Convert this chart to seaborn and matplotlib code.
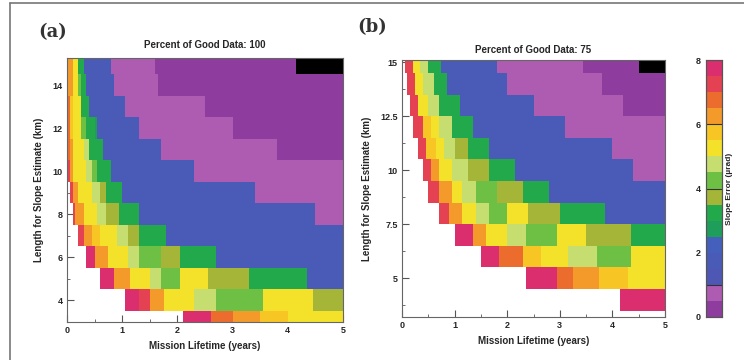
import numpy as np
import pandas as pd
import matplotlib
matplotlib.use("Agg")
import matplotlib.pyplot as plt
from matplotlib.colors import ListedColormap
from matplotlib.lines import Line2D
import seaborn as sns

sns.set_theme(style="white")
plt.rcParams['font.family'] = ['Liberation Sans', 'DejaVu Sans']

# rows = slope estimate length (km), columns = mission lifetime in 0.05 yr steps
lengths_km = [15, 14, 13, 12, 11, 10, 9, 8, 7, 6, 5, 4, 3]
year_step = 0.05
n_cols = 100

# each row: (start year, slope error in urad); -1 = no data (black), missing = blank
runs_100 = [
    [(0, 6.3), (0.1, 5.3), (0.2, 3.2), (0.3, 1.8), (0.8, 0.8), (1.6, 0.3), (4.15, -1)],
    [(0, 6.3), (0.1, 5.3), (0.2, 4.3), (0.25, 3.2), (0.35, 1.8), (0.85, 0.8), (1.65, 0.3)],
    [(0, 6.8), (0.05, 5.8), (0.1, 5.3), (0.25, 3.2), (0.4, 1.8), (1.05, 0.8), (2.5, 0.3)],
    [(0, 6.8), (0.05, 5.8), (0.1, 5.3), (0.25, 4.3), (0.35, 3.2), (0.5, 2.8), (0.55, 1.8), (1.3, 0.8), (3.0, 0.3)],
    [(0, 6.8), (0.05, 6.3), (0.1, 5.3), (0.3, 4.8), (0.4, 3.2), (0.65, 1.8), (1.7, 0.8), (3.8, 0.3)],
    [(0, 7.2), (0.05, 6.3), (0.1, 5.3), (0.35, 4.8), (0.45, 4.3), (0.55, 3.2), (0.8, 1.8), (2.3, 0.8)],
    [(0.05, 7.2), (0.1, 6.3), (0.2, 5.3), (0.45, 4.8), (0.6, 3.8), (0.7, 3.2), (1.0, 1.8), (3.4, 0.8)],
    [(0.1, 7.2), (0.15, 6.3), (0.3, 5.3), (0.55, 4.8), (0.7, 3.8), (0.95, 3.2), (1.3, 1.8), (4.5, 0.8)],
    [(0.2, 7.2), (0.3, 6.3), (0.45, 5.8), (0.6, 5.3), (0.9, 4.8), (1.1, 3.8), (1.3, 3.2), (1.8, 1.8)],
    [(0.35, 7.8), (0.5, 6.3), (0.75, 5.3), (1.1, 4.8), (1.3, 4.3), (1.7, 3.8), (2.05, 3.2), (2.7, 1.8)],
    [(0.6, 7.8), (0.85, 6.3), (1.15, 5.3), (1.5, 4.8), (1.7, 4.3), (2.05, 5.3), (2.55, 3.8), (3.3, 3.2), (4.35, 1.8)],
    [(1.05, 7.8), (1.3, 7.2), (1.5, 6.3), (1.75, 5.3), (2.3, 4.8), (2.7, 4.3), (3.55, 5.3), (4.45, 3.8)],
    [(2.1, 7.8), (2.6, 6.8), (3.0, 6.3), (3.5, 5.8), (4.0, 5.3)],
]

runs_75 = [
    [(0.05, 7.2), (0.2, 5.3), (0.35, 4.8), (0.5, 3.2), (0.75, 1.8), (1.8, 0.8), (3.45, 0.3), (4.5, -1)],
    [(0.1, 7.2), (0.25, 5.3), (0.4, 4.8), (0.6, 3.2), (0.85, 1.8), (2.0, 0.8), (3.8, 0.3)],
    [(0.15, 7.2), (0.3, 5.3), (0.5, 4.8), (0.7, 3.2), (1.1, 1.8), (2.5, 0.8), (4.2, 0.3)],
    [(0.2, 7.2), (0.4, 5.8), (0.55, 5.3), (0.7, 4.8), (0.95, 3.2), (1.35, 1.8), (3.1, 0.8)],
    [(0.3, 7.2), (0.45, 5.8), (0.65, 5.3), (0.8, 4.8), (1.0, 3.8), (1.25, 3.2), (1.65, 1.8), (4.0, 0.8)],
    [(0.4, 7.2), (0.55, 6.3), (0.7, 5.3), (0.95, 4.8), (1.25, 3.8), (1.65, 3.2), (2.15, 1.8), (4.4, 0.8)],
    [(0.5, 7.2), (0.7, 6.3), (0.95, 5.3), (1.15, 4.8), (1.4, 4.3), (1.8, 3.8), (2.3, 3.2), (2.8, 1.8)],
    [(0.7, 7.2), (0.9, 6.3), (1.15, 5.3), (1.4, 4.8), (1.65, 4.3), (2.0, 5.3), (2.4, 3.8), (3.0, 3.2), (3.85, 1.8)],
    [(1.0, 7.8), (1.35, 6.3), (1.6, 5.3), (2.0, 4.8), (2.35, 4.3), (2.95, 5.3), (3.5, 3.8), (4.35, 3.2)],
    [(1.5, 7.8), (1.85, 6.8), (2.3, 5.8), (2.65, 5.3), (3.15, 4.8), (3.7, 4.3), (4.35, 5.3)],
    [(2.35, 7.8), (2.95, 6.8), (3.25, 6.3), (3.75, 5.8), (4.3, 5.3)],
    [(4.15, 7.8)],
    [],
]

# 0.5 urad colour bins, 0 -> 8
bin_colors = ['#8E3C9E', '#AE5CB2', '#4E58B4', '#4A5BB7', '#4560BC', '#1E9E5A',
              '#22A94C', '#A4B538', '#6EC044', '#C6DE70', '#F4E22A', '#F8C624',
              '#F39A2A', '#EC6C2E', '#E44252', '#DA2E6E']
cmap = ListedColormap(bin_colors)
cmap.set_under('black')


def to_frame(runs):
    centers = np.arange(n_cols) * year_step + year_step / 2
    grid = np.full((len(runs), n_cols), np.nan)
    for r, segs in enumerate(runs):
        for start, val in segs:
            grid[r, centers >= start] = val
    return pd.DataFrame(grid, index=lengths_km, columns=np.round(centers, 3))


def km_pos(v):
    return lengths_km[0] + 0.5 - np.asarray(v, dtype=float)


fig = plt.figure(figsize=(7.44, 3.6), dpi=100)
ax_a = fig.add_axes([67 / 744, 38 / 360, 276 / 744, 264 / 360])
ax_b = fig.add_axes([402 / 744, 43 / 360, 263 / 744, 257 / 360])
cax = fig.add_axes([706 / 744, 43 / 360, 16 / 744, 257 / 360])

panels = [
    (ax_a, runs_100, "Percent of Good Data: 100", (2.98, 15.26), [4, 6, 8, 10, 12, 14], ["4", "6", "8", "10", "12", "14"], [3, 5, 7, 9, 11, 13, 15], 7),
    (ax_b, runs_75, "Percent of Good Data: 75", (3.2, 15.1), [5, 7.5, 10, 12.5, 15], ["5", "7.5", "10", "12.5", "15"], [3.75, 6.25, 8.75, 11.25, 13.75], 5),
]

for i, (ax, runs, title, ylim, yt, ytl, ymin, tpad) in enumerate(panels):
    df = to_frame(runs)
    sns.heatmap(df, ax=ax, cmap=cmap, vmin=0, vmax=8, cbar=(i == 1),
                cbar_ax=cax if i == 1 else None,
                xticklabels=False, yticklabels=False)
    ax.set_xlim(0, n_cols)
    ax.set_ylim(km_pos(ylim[0]), km_pos(ylim[1]))
    ax.set_xticks(np.arange(0, 6) / year_step)
    ax.set_xticklabels([str(t) for t in range(6)], rotation=0)
    ax.set_xticks(np.arange(0.5, 5, 1) / year_step, minor=True)
    ax.set_yticks(km_pos(yt))
    ax.set_yticklabels(ytl, rotation=0)
    ax.set_yticks(km_pos(ymin), minor=True)
    ax.tick_params(which='both', direction='in', color='#555555', left=True, bottom=True,
                   labelsize=6.5, pad=3)
    ax.tick_params(which='major', length=5, width=0.8)
    ax.tick_params(which='minor', length=2.5, width=0.6)
    for lab in ax.get_xticklabels() + ax.get_yticklabels():
        lab.set_fontweight('bold')
    for sp in ax.spines.values():
        sp.set_visible(True)
        sp.set_color('#666666')
        sp.set_linewidth(0.8)
    ax.set_xlabel("Mission Lifetime (years)", fontsize=7, fontweight='bold', labelpad=4)
    ax.set_ylabel("Length for Slope Estimate (km)", fontsize=7, fontweight='bold', labelpad=6)
    ax.set_title(title, fontsize=7, fontweight='bold', pad=tpad)

# colour bar
cax.tick_params(direction='in', length=0, labelsize=6.5, left=True, right=False,
                labelleft=True, labelright=False, pad=4)
cax.yaxis.set_ticks_position('left')
cax.set_yticks([0, 2, 4, 6, 8])
cax.set_yticklabels(["0", "2", "4", "6", "8"], fontweight='bold')
for v in [1.0, 4.0, 6.0]:
    cax.axhline(v, color='#333333', lw=0.8)
cax.yaxis.set_label_position('right')
cax.set_ylabel("Slope Error (\u00b5rad)", fontsize=6, fontweight='bold', labelpad=3)
for sp in cax.spines.values():
    sp.set_visible(True)
    sp.set_color('#555555')
    sp.set_linewidth(0.8)

fig.text(38 / 744, 1 - 32 / 360, "(a)", fontsize=13, fontweight='bold',
         family=['DejaVu Serif'], va='center', color='#333333')
fig.text(357 / 744, 1 - 27 / 360, "(b)", fontsize=13, fontweight='bold',
         family=['DejaVu Serif'], va='center', color='#333333')

# outer frame of the figure
fig.add_artist(Line2D([10 / 744, 1], [1 - 3 / 360, 1 - 3 / 360], color='#777777', lw=1.2))
fig.add_artist(Line2D([10 / 744, 10 / 744], [0, 1 - 3 / 360], color='#777777', lw=1.2))

fig.savefig("out.png", dpi=100)
